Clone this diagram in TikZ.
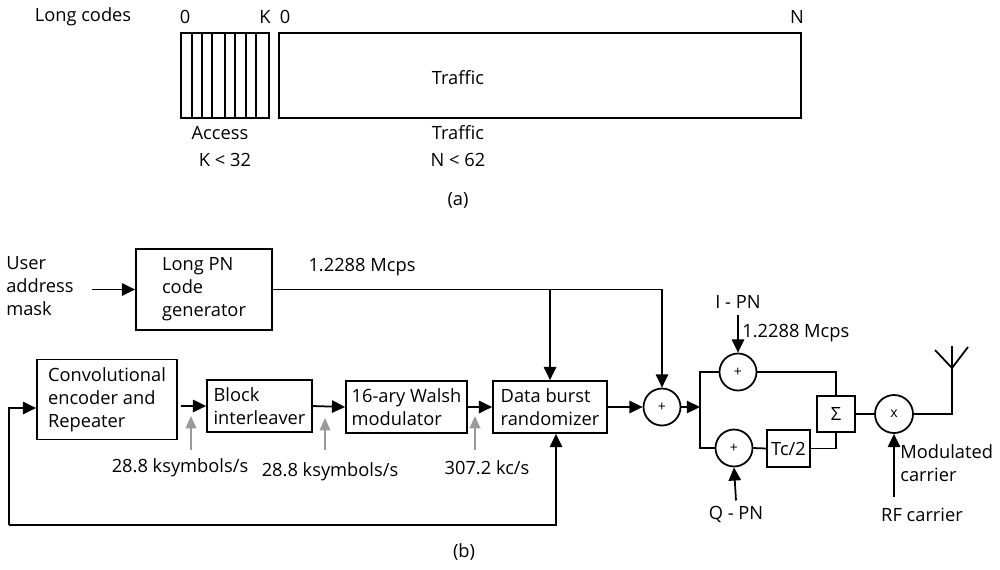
\documentclass[tikz,border=0pt]{standalone}
\usepackage{fontspec}
\setmainfont{Open Sans}
\usetikzlibrary{arrows.meta, positioning}
\definecolor{tapgray}{HTML}{9A9A9A}
\tikzset{
  blk/.style={rectangle, draw, line width=1pt, align=left, inner sep=2pt},
  summer/.style={circle, draw, line width=1pt, minimum size=0.74cm, inner sep=0pt, font=\footnotesize},
  flow/.style={-{Triangle[length=7.5pt,width=7pt]}, line width=1pt},
  wire/.style={line width=1pt},
  thinwire/.style={line width=0.8pt},
  tapflow/.style={-{Triangle[length=7pt,width=6pt]}, draw=tapgray, fill=tapgray, line width=1pt},
  lbl/.style={inner sep=0pt, align=left}
}

\begin{document}
\begin{tikzpicture}[x=0.02cm, y=-0.02cm, every node/.style={font=\fontsize{10.4}{13}\selectfont}]
  \useasboundingbox (0,0) rectangle (1000,569);

  \node[lbl] (lcodes) at (83,17) {Long codes};
  \node[lbl] (azero) at (185,17) {0};
  \node[lbl] (akay) at (265,17) {K};
  \node[lbl] (tzero) at (285,17) {0};
  \node[lbl] (tenn) at (797,17) {N};
  \draw[thinwire] (181,33) rectangle (269,118);
  \foreach \x in {192,202,212,225,235,246,256}
    \draw[thinwire] (\x,33) -- (\x,118);
  \draw[thinwire] (279,33) rectangle (801,118);
  \node[lbl] (trin) at (458,78) {Traffic};
  \node[lbl] (access) at (220,133) {Access};
  \node[lbl] (trout) at (458,133) {Traffic};
  \node[lbl] (klim) at (225,160) {K < 32};
  \node[lbl] (nlim) at (458,160) {N < 62};
  \node[lbl] (capa) at (458,200) {(a)};

  \node[lbl] (uam) at (40,286) {User\\address\\mask};
  \node[blk, minimum width=2.72cm, minimum height=1.62cm] (lpn) at (204,289.5) {Long PN\\code\\generator};
  \node[blk, minimum width=2.8cm, minimum height=1.6cm] (conv) at (107,399.5) {Convolutional\\encoder and\\Repeater};
  \node[blk, minimum width=2.1cm, minimum height=1.04cm] (blkint) at (259.5,406) {Block\\interleaver};
  \node[blk, minimum width=2.42cm, minimum height=1.04cm] (walsh) at (406.5,407) {16-ary Walsh\\modulator};
  \node[blk, minimum width=2.28cm, minimum height=1.04cm] (rand) at (550,407) {Data burst\\randomizer};
  \node[summer] (sumone) at (662,407) {+};
  \node[summer] (sumi) at (738,372) {+};
  \node[summer] (sumq) at (734,448) {+};
  \node[blk, inner sep=0pt, minimum width=0.76cm, minimum height=0.72cm, align=center] (sig) at (836,414) {Σ};
  \node[blk, inner sep=0pt, minimum width=0.86cm, minimum height=0.74cm, align=center] (tc) at (788.5,448.5) {Tc/2};
  \node[summer, minimum size=0.76cm] (mix) at (894,414) {x};

  \node[lbl] (mcps) at (362,267) {1.2288 Mcps};
  \node[lbl] (rateone) at (180,468) {28.8 ksymbols/s};
  \node[lbl] (ratetwo) at (330,472) {28.8 ksymbols/s};
  \node[lbl] (ratethree) at (487,468) {307.2 kc/s};
  \node[lbl] (ipn) at (738,302) {I - PN};
  \node[lbl, anchor=west] (mcpsi) at (742,333) {1.2288 Mcps};
  \node[lbl] (qpn) at (736,514) {Q - PN};
  \node[lbl] (rfc) at (922,515) {RF carrier};
  \node[lbl, anchor=west] (modc) at (900,463) {Modulated\\carrier};
  \node[lbl] (capb) at (464,552) {(b)};

  \coordinate (fbin) at (9,408);
  \coordinate (fbl) at (9,525);
  \coordinate (split) at (700,407);
  \coordinate (ant) at (952,368);
  \coordinate (anttop) at (952,346);
  \coordinate (antl) at (935,350);
  \coordinate (antr) at (968,347);
  \coordinate (rfa) at (894,497);
  \coordinate (tapa) at (191,450);
  \coordinate (tapb) at (325,450);
  \coordinate (tapc) at (475,450);

  \draw[flow] ([xshift=0.36cm]uam.east |- lpn.west) -- (lpn.west);
  \draw[flow] (lpn.east) -| (sumone.north);
  \draw[flow] (lpn.east -| rand.north) -- (rand.north);
  \draw[flow] (fbl) -- (fbin) -- (fbin -| conv.west);
  \draw[flow] (fbl) -| ([xshift=0.12cm]rand.south);
  \draw[flow] ([xshift=0.06cm]conv.east |- blkint.west) -- (blkint.west);
  \draw[flow] (blkint.east) -- (walsh.west);
  \draw[flow] (walsh.east) -- (rand.west);
  \draw[flow] (rand.east) -- (sumone.west);
  \draw[tapflow] (tapa) -- ++(0,-34);
  \draw[tapflow] (tapb) -- ++(0,-32);
  \draw[tapflow] (tapc) -- ++(0,-34);
  \draw[flow] (sumone.east) -- (split);
  \draw[wire] (sumi.west) -| (split) |- (sumq.west);
  \draw[wire] (sumi.east) -| (sig.north);
  \draw[wire] (sumq.east) -- (tc.west);
  \draw[wire] (tc.east) -| (sig.south);
  \draw[wire] (sig.east) -- (mix.west);
  \draw[wire] (mix.east) -| (anttop);
  \draw[wire] (antl) -- (ant) -- (antr);
  \draw[flow] ([yshift=-0.12cm]ipn.south) -- (sumi.north);
  \draw[flow] ([yshift=0.1cm]qpn.north) -- (sumq.south);
  \draw[flow] (rfa) -- (mix.south);
\end{tikzpicture}
\end{document}
